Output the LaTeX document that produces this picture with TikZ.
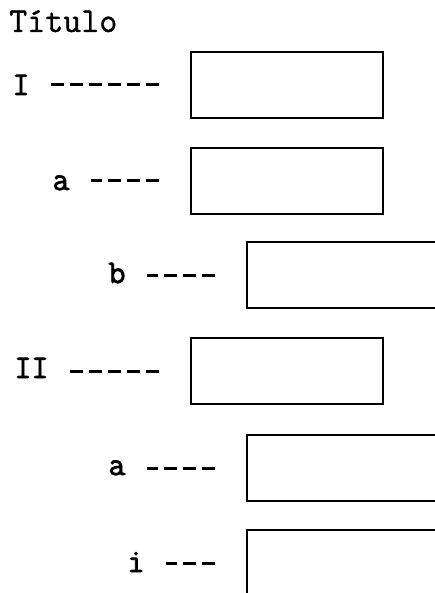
\documentclass[tikz,border=0pt]{standalone}
\usepackage{fontspec}
\newfontfamily\lblfont{Latin Modern Mono}[FakeBold=2.5]
\newfontfamily\ttlfont{Latin Modern Mono}[FakeBold=1]
\usepackage{tikz}

\tikzset{
  slot/.style={draw, line width=2pt, outer sep=0pt, inner sep=0pt, anchor=north west, minimum height=66pt},
  wide/.style={slot, minimum width=192pt},
  open/.style={slot, minimum width=200pt},
  lbl/.style={font=\lblfont\fontsize{33}{33}\selectfont, inner sep=0pt, outer sep=0pt, anchor=base east},
  leader/.style={line width=3pt, dash pattern=on 13.5pt off 5.5pt, shorten <=32pt, shorten >=21pt}
}

\begin{document}
\begin{tikzpicture}[x=1pt, y=-1pt]
  \useasboundingbox (0,0) rectangle (435,593);
  \clip (0,0) rectangle (435,593);

  \node[font=\ttlfont\fontsize{35}{35}\selectfont, anchor=base west, inner sep=0pt] (title) at (9,32) {Título};

  % boxes
  \node[wide] (bI)   at (191,52)  {};
  \node[wide] (bIa)  at (191,148) {};
  \node[open] (bIb)  at (247,242) {};
  \node[wide] (bII)  at (191,338) {};
  \node[open] (bIIa) at (247,435) {};
  \node[open] (bIIi) at (247,530) {};

  % labels
  \node[lbl] (lI)   at (29.5,95)  {I};
  \node[lbl] (lIa)  at (69.5,190) {a};
  \node[lbl] (lIb)  at (125.5,283) {b};
  \node[lbl] (lII)  at (48.5,378) {II};
  \node[lbl] (lIIa) at (125.5,475) {a};
  \node[lbl] (lIIi) at (144.5,572) {i};

  % leaders
  \draw[leader] (bI.west)   -- (lI.east |- bI.west);
  \draw[leader] (bIa.west)  -- (lIa.east |- bIa.west);
  \draw[leader] (bIb.west)  -- (lIb.east |- bIb.west);
  \draw[leader] (bII.west)  -- (lII.east |- bII.west);
  \draw[leader] (bIIa.west) -- (lIIa.east |- bIIa.west);
  \draw[leader] (bIIi.west) -- (lIIi.east |- bIIi.west);
\end{tikzpicture}
\end{document}
